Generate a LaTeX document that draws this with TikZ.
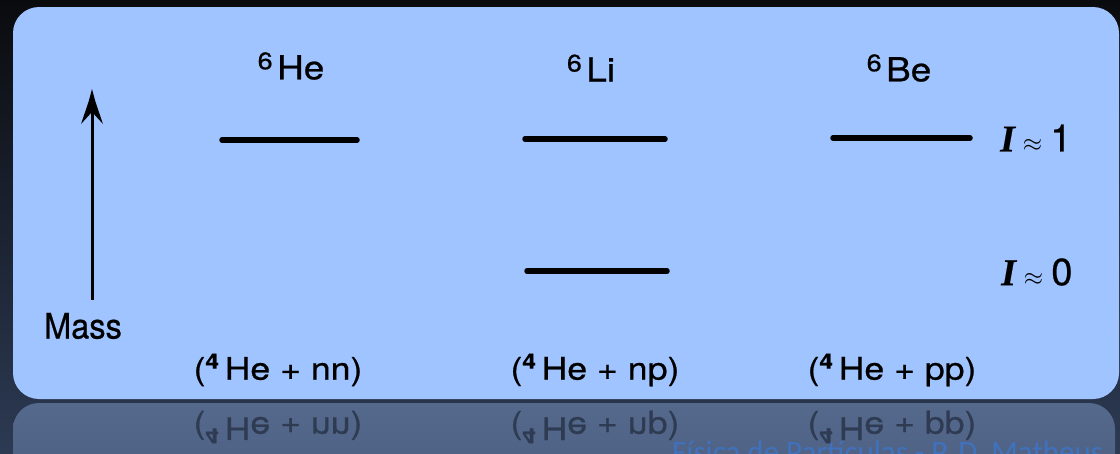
\documentclass[tikz,border=0pt]{standalone}
\usepackage{fontspec}
\usepackage{graphicx}
\setmainfont{TeX Gyre Heros}
\newfontfamily\scan[FakeBold=0.6]{TeX Gyre Heros}
\newfontfamily\serifI[FakeBold=0.4]{Liberation Serif}
\newfontfamily\calib{Carlito}
\usetikzlibrary{arrows.meta}
\definecolor{panel}{HTML}{A0C4FF}
\definecolor{bgtop}{HTML}{0A0B0E}
\definecolor{bgmid}{HTML}{151A23}
\definecolor{bgbot}{HTML}{2C3A53}
\definecolor{refltop}{HTML}{55698D}
\definecolor{reflbot}{HTML}{485B7C}
\definecolor{refltext}{HTML}{2E3B52}
\definecolor{faint}{HTML}{3F72BE}
\tikzset{
  level/.style={line width=5.5pt, line cap=round, black},
  nuc/.style={inner sep=0pt, font=\scan\fontsize{33}{33}\selectfont},
  combo/.style={inner sep=0pt, font=\scan\fontsize{31}{31}\selectfont},
  isolabel/.style={inner sep=0pt, anchor=west, font=\fontsize{38}{38}\selectfont},
  reflabel/.style={inner sep=0pt, text=refltext, font=\scan\fontsize{31}{31}\selectfont},
}
\newcommand{\supsix}{{\fontsize{24}{24}\selectfont\raisebox{10pt}{6}}\hspace{4pt}}
\newcommand{\supfour}{{\bfseries\fontsize{21}{21}\selectfont\raisebox{11pt}{4}}\hspace{5pt}}
\newcommand{\combotext}[1]{\scalebox{1.15}[1]{(\supfour He + #1)}}
\newcommand{\isoI}{{\serifI\bfseries\itshape I}}
\begin{document}
\begin{tikzpicture}[x=1pt,y=-1pt]
\useasboundingbox (0,0) rectangle (1120,453);
\begin{scope}
\clip (0,0) rectangle (1120,453);
% background
\shade[top color=bgtop, middle color=bgmid, bottom color=bgbot] (0,0) rectangle (1120,453);
% panel
\fill[panel, rounded corners=26pt] (13,7) rectangle (1119,399);
% reflection
\shade[top color=refltop, bottom color=reflbot, rounded corners=26pt] (13,403) rectangle (1115,520);
\node[reflabel] (r1) at (278,427) {\scalebox{1}[-1]{\combotext{nn}}};
\node[reflabel] (r2) at (595,427) {\scalebox{1}[-1]{\combotext{np}}};
\node[reflabel] (r3) at (892,427) {\scalebox{1}[-1]{\combotext{pp}}};
\node[inner sep=0pt, anchor=base west, text=faint, font=\calib\fontsize{31}{31}\selectfont] (credit) at (672,462) {Física de Partículas - P. D. Matheus};
\end{scope}
% nuclide labels
\node[nuc] (he) at (291,66) {\scalebox{1.12}[1]{\supsix He}};
\node[nuc] (li) at (591,68) {\scalebox{1.12}[1]{\supsix Li}};
\node[nuc] (be) at (899,68) {\scalebox{1.12}[1]{\supsix Be}};
% levels
\coordinate (heL) at (222,140); \coordinate (heR) at (357,140);
\coordinate (li1L) at (525,139); \coordinate (li1R) at (665,139);
\coordinate (li0L) at (527,271); \coordinate (li0R) at (667,271);
\coordinate (beL) at (833,138); \coordinate (beR) at (970,138);
\draw[level] (heL) -- (heR);
\draw[level] (li1L) -- (li1R);
\draw[level] (li0L) -- (li0R);
\draw[level] (beL) -- (beR);
% isospin labels
\node[isolabel] (i1) at (1000,138) {\isoI\hspace{8pt}$\approx$\hspace{8pt}{\scan 1}};
\node[isolabel] (i0) at (1001,272) {\isoI\hspace{8pt}$\approx$\hspace{8pt}{\scan 0}};
% mass arrow
\coordinate (mbot) at (92,300);
\coordinate (mtop) at (92,100);
\draw[line width=3pt] (mbot) -- (mtop);
\fill[black, line join=round] (92,89) -- (95.5,102) -- (103,124) -- (92,112) -- (81,124) -- (88.5,102) -- cycle;
\node[inner sep=0pt, font=\scan\fontsize{35}{35}\selectfont] (mass) at (83,326) {\scalebox{0.93}[1]{Mass}};
% combinations
\node[combo] (c1) at (278,370) {\combotext{nn}};
\node[combo] (c2) at (595,370) {\combotext{np}};
\node[combo] (c3) at (892,370) {\combotext{pp}};
\end{tikzpicture}
\end{document}
